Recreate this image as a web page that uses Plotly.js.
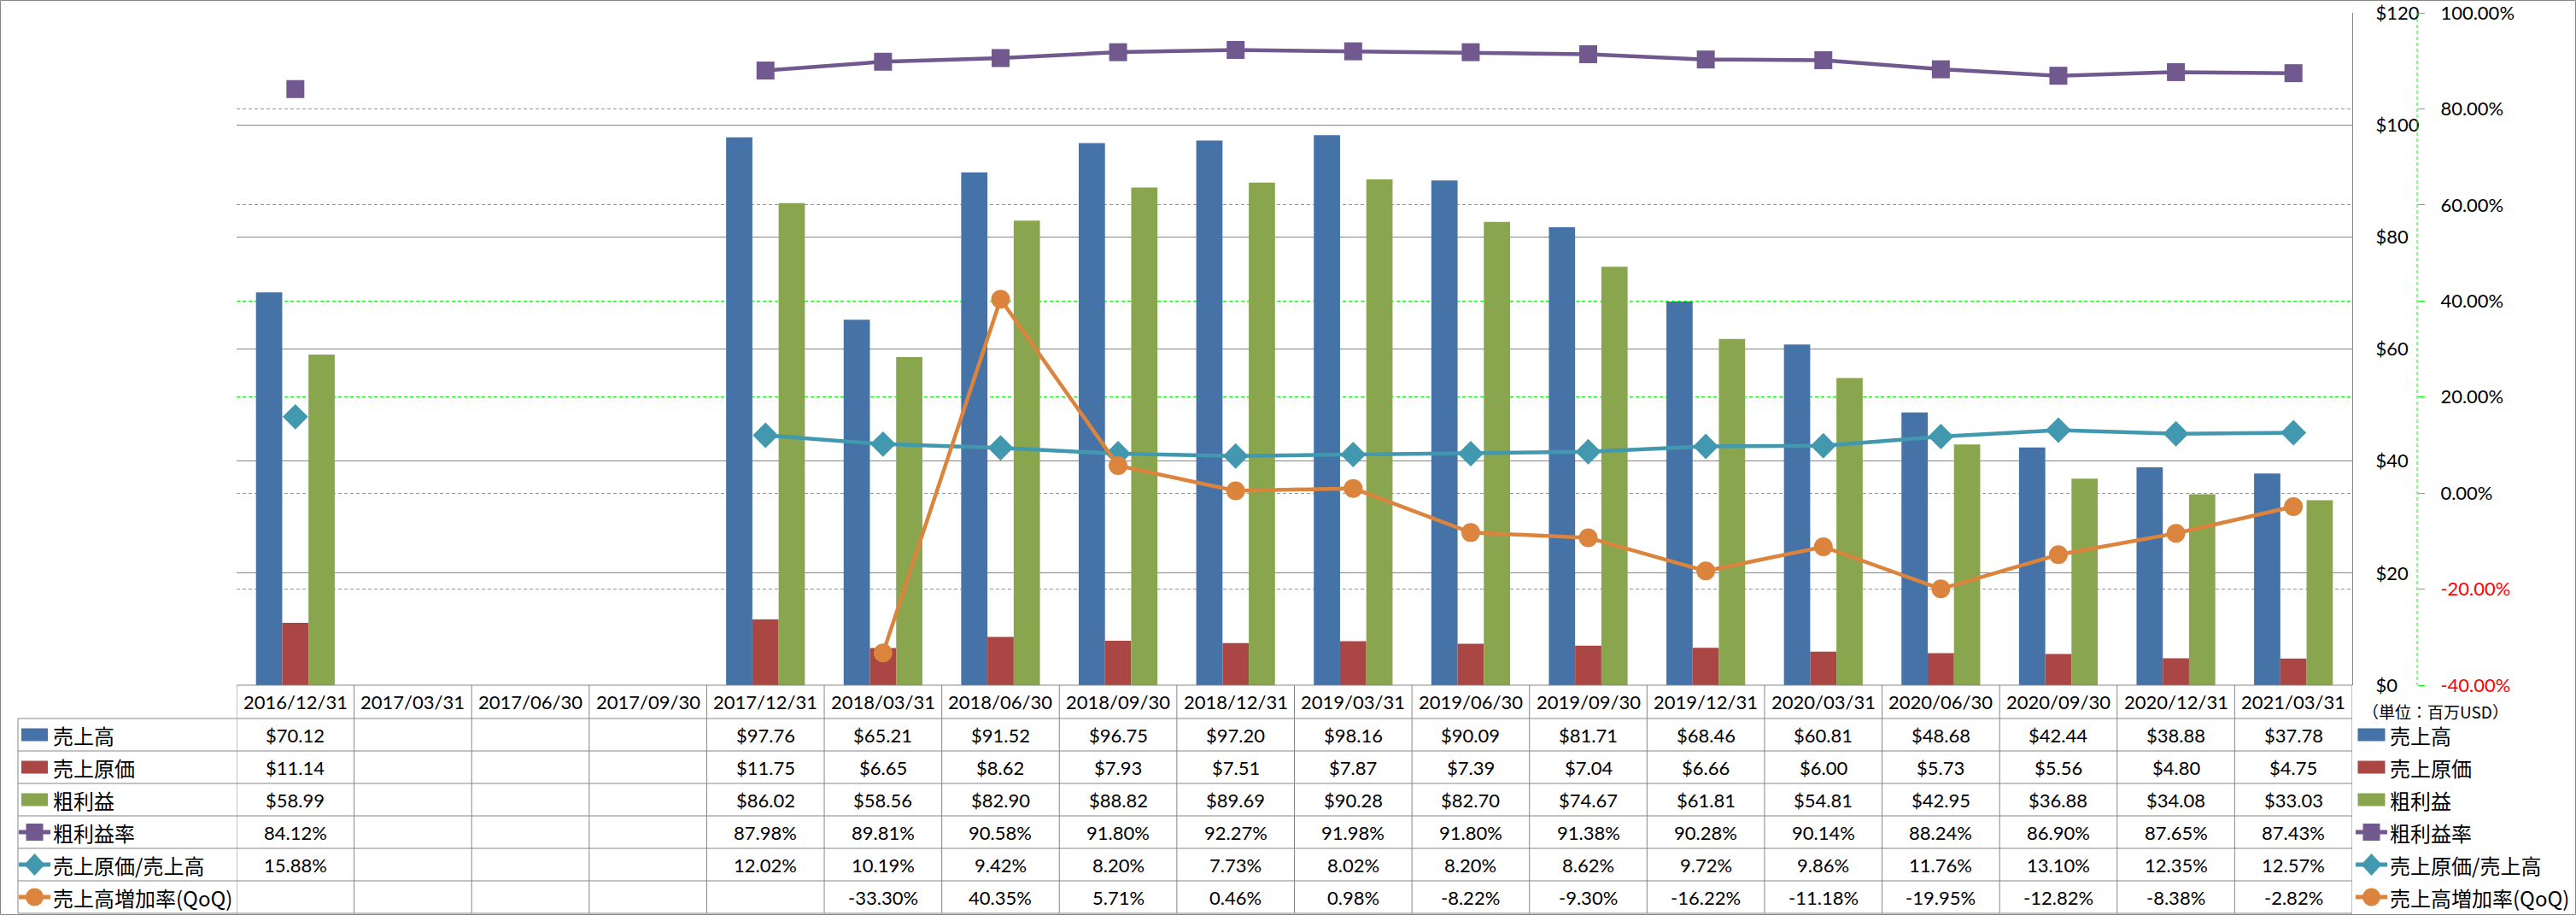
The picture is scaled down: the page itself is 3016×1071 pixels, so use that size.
<!DOCTYPE html>
<html>
<head>
<meta charset="utf-8">
<script src="https://cdn.plot.ly/plotly-3.0.1.min.js"></script>
<style>
  html, body { margin: 0; padding: 0; background: #fff; }
  #chart { width: 3016px; height: 1071px; }
</style>
</head>
<body>
<div id="chart"></div>
<script>
// ---------------- DATA ----------------
const dates = ['2016/12/31','2017/03/31','2017/06/30','2017/09/30','2017/12/31','2018/03/31','2018/06/30','2018/09/30','2018/12/31','2019/03/31','2019/06/30','2019/09/30','2019/12/31','2020/03/31','2020/06/30','2020/09/30','2020/12/31','2021/03/31'];
const sales = [70.12,null,null,null,97.76,65.21,91.52,96.75,97.20,98.16,90.09,81.71,68.46,60.81,48.68,42.44,38.88,37.78];
const costOfSales = [11.14,null,null,null,11.75,6.65,8.62,7.93,7.51,7.87,7.39,7.04,6.66,6.00,5.73,5.56,4.80,4.75];
const grossProfit = [58.99,null,null,null,86.02,58.56,82.90,88.82,89.69,90.28,82.70,74.67,61.81,54.81,42.95,36.88,34.08,33.03];
const grossMargin = [84.12,null,null,null,87.98,89.81,90.58,91.80,92.27,91.98,91.80,91.38,90.28,90.14,88.24,86.90,87.65,87.43];
const costRatio = [15.88,null,null,null,12.02,10.19,9.42,8.20,7.73,8.02,8.20,8.62,9.72,9.86,11.76,13.10,12.35,12.57];
const salesQoQ = [null,null,null,null,null,-33.30,40.35,5.71,0.46,0.98,-8.22,-9.30,-16.22,-11.18,-19.95,-12.82,-8.38,-2.82];
const seriesNames = ['売上高','売上原価','粗利益','粗利益率','売上原価/売上高','売上高増加率(QoQ)'];
const y1Ticks = [0,20,40,60,80,100,120];
const y2Ticks = [-40,-20,0,20,40,60,80,100];
const unitLabel = '（単位：百万USD）';

// ---------------- STYLE / GEOMETRY ----------------
const W = 3016, H = 1071;
const X = px => px / W;
const Y = py => 1 - py / H;
const colors = ['#4572A7','#AA4643','#89A54E','#71588F','#4198AF','#DB843D'];
const gridGray = '#878787';
const green = '#00FF00';
const latin = 'Lato, "Noto Sans CJK JP", sans-serif';
const cjk = '"Noto Sans CJK JP", Lato, sans-serif';

const plotL = 277, plotR = 2754, plotT = 15, plotB = 802;
const headerB = 841, rowH = 38, labelL = 21;
const rowCenters = [0,1,2,3,4,5].map(i => headerB + rowH * i + rowH / 2);

// ---------------- TRACES ----------------
const traces = [
  {type:'bar', name:seriesNames[0], x:dates, y:sales, marker:{color:colors[0]}},
  {type:'bar', name:seriesNames[1], x:dates, y:costOfSales, marker:{color:colors[1]}},
  {type:'bar', name:seriesNames[2], x:dates, y:grossProfit, marker:{color:colors[2]}},
  {type:'scatter', mode:'lines+markers', name:seriesNames[3], x:dates, y:grossMargin, yaxis:'y2',
   line:{color:colors[3], width:4.5}, marker:{symbol:'square', size:21, color:colors[3]}, connectgaps:false},
  {type:'scatter', mode:'lines+markers', name:seriesNames[4], x:dates, y:costRatio, yaxis:'y2',
   line:{color:colors[4], width:4.5}, marker:{symbol:'diamond', size:23, color:colors[4]}, connectgaps:false},
  {type:'scatter', mode:'lines+markers', name:seriesNames[5], x:dates, y:salesQoQ, yaxis:'y2',
   line:{color:colors[5], width:4.5}, marker:{symbol:'circle', size:22, color:colors[5]}, connectgaps:false}
];

// ---------------- TABLE (annotations + shapes) ----------------
const annotations = [];
const shapes = [];
const lineStyle = {color: gridGray, width: 1};

// header dates
dates.forEach(d => annotations.push({
  xref:'x', yref:'paper', x:d, y:Y((plotB + headerB) / 2), text:d, showarrow:false,
  xanchor:'center', yanchor:'middle', font:{family:latin, size:22, color:'#000'}
}));

const rowsData = [sales, costOfSales, grossProfit, grossMargin, costRatio, salesQoQ];
const fmt = [
  v => '$' + v.toFixed(2), v => '$' + v.toFixed(2), v => '$' + v.toFixed(2),
  v => v.toFixed(2) + '%', v => v.toFixed(2) + '%', v => v.toFixed(2) + '%'
];
rowsData.forEach((arr, r) => {
  arr.forEach((v, i) => {
    if (v === null) return;
    annotations.push({
      xref:'x', yref:'paper', x:dates[i], y:Y(rowCenters[r]), text:fmt[r](v), showarrow:false,
      xanchor:'center', yanchor:'middle', font:{family:latin, size:22, color:'#000'}
    });
  });
});

// row labels (left column) and right legend
seriesNames.forEach((n, r) => {
  annotations.push({xref:'paper', yref:'paper', x:X(60), y:Y(rowCenters[r]), text:n, showarrow:false,
    xanchor:'left', yanchor:'middle', font:{family:cjk, size:24, color:'#000'}});
  annotations.push({xref:'paper', yref:'paper', x:X(2796), y:Y(rowCenters[r]), text:n, showarrow:false,
    xanchor:'left', yanchor:'middle', font:{family:cjk, size:24, color:'#000'}});
});
annotations.push({xref:'paper', yref:'paper', x:X(2764), y:Y(832), text:unitLabel, showarrow:false,
  xanchor:'left', yanchor:'middle', font:{family:cjk, size:19, color:'#000'}});

// legend keys
function addKey(cx, cy, r, rectW) {
  const c = colors[r];
  if (r < 3) {
    shapes.push({type:'rect', xref:'paper', yref:'paper', x0:X(cx - rectW/2), x1:X(cx + rectW/2),
      y0:Y(cy + 7.5), y1:Y(cy - 7.5), fillcolor:c, line:{width:0}});
  } else {
    shapes.push({type:'line', xref:'paper', yref:'paper', x0:X(cx - 18.5), x1:X(cx + 18.5),
      y0:Y(cy), y1:Y(cy), line:{color:c, width:5}});
    if (r === 3) {
      shapes.push({type:'rect', xref:'paper', yref:'paper', x0:X(cx - 10), x1:X(cx + 10),
        y0:Y(cy + 10), y1:Y(cy - 10), fillcolor:c, line:{width:0}});
    } else if (r === 4) {
      const p = `M${X(cx-12)},${Y(cy)} L${X(cx)},${Y(cy-13)} L${X(cx+12)},${Y(cy)} L${X(cx)},${Y(cy+13)} Z`;
      shapes.push({type:'path', xref:'paper', yref:'paper', path:p, fillcolor:c, line:{width:0}});
    } else {
      shapes.push({type:'circle', xref:'paper', yref:'paper', x0:X(cx - 10.5), x1:X(cx + 10.5),
        y0:Y(cy + 10.5), y1:Y(cy - 10.5), fillcolor:c, line:{width:0}});
    }
  }
}
seriesNames.forEach((n, r) => {
  addKey(40.5, rowCenters[r], r, 31);
  addKey(2776.5, rowCenters[r], r, 32);
});

// table lines
shapes.push({type:'line', xref:'paper', yref:'paper', x0:X(plotL), x1:X(plotR), y0:Y(plotB), y1:Y(plotB), line:lineStyle});
for (let k = 0; k <= 6; k++) {
  const yy = headerB + rowH * k;
  shapes.push({type:'line', xref:'paper', yref:'paper', x0:X(labelL), x1:X(plotR), y0:Y(yy), y1:Y(yy), line:lineStyle});
}
shapes.push({type:'line', xref:'paper', yref:'paper', x0:X(labelL), x1:X(labelL), y0:Y(headerB), y1:Y(headerB + rowH*6), line:lineStyle});
for (let i = 0; i <= dates.length; i++) {
  shapes.push({type:'line', xref:'x', yref:'paper', x0:i - 0.5, x1:i - 0.5, y0:Y(plotB), y1:Y(headerB + rowH*6), line:lineStyle});
}
// secondary axis dashed line
shapes.push({type:'line', xref:'paper', yref:'paper', x0:X(2830), x1:X(2830), y0:Y(plotT), y1:Y(plotB),
  line:{color:green, width:1, dash:'4px,3px'}});
// chart border
shapes.push({type:'rect', xref:'paper', yref:'paper', x0:X(0.5), x1:X(W - 0.5), y0:Y(H - 0.5), y1:Y(0.5),
  line:{color:'#868686', width:1}, fillcolor:'rgba(0,0,0,0)'});

// ---------------- LAYOUT ----------------
const layout = {
  width: W, height: H,
  margin: {l:0, r:0, t:0, b:0, pad:0},
  paper_bgcolor: '#fff', plot_bgcolor: '#fff',
  showlegend: false,
  barmode: 'group', bargap: 0.33, bargroupgap: 0,
  font: {family: latin, size: 22, color: '#000'},
  xaxis: {
    type:'category', domain:[X(plotL), X(plotR)], range:[-0.5, dates.length - 0.5],
    showticklabels:false, showgrid:false, zeroline:false, showline:false, ticks:'', fixedrange:true
  },
  yaxis: {
    domain:[Y(plotB), Y(plotT)], range:[0, 120], side:'right',
    tickmode:'array', tickvals:y1Ticks, ticktext:y1Ticks.map(v => '$' + v),
    showgrid:true, gridcolor:gridGray, gridwidth:1, zeroline:false,
    showline:true, linecolor:gridGray, linewidth:1, ticks:'', ticklabelstandoff:22,
    tickfont:{family:latin, size:22, color:'#000'}, fixedrange:true
  },
  yaxis2: {
    overlaying:'y', side:'right', anchor:'free', position:X(2830), range:[-40, 100],
    tickmode:'array', tickvals:y2Ticks,
    ticktext:y2Ticks.map(v => v < 0 ? `<span style="color:#FF0000">${v.toFixed(2)}%</span>` : `${v.toFixed(2)}%`),
    showgrid:true, gridcolor:green, gridwidth:1, griddash:'4px,3px', zeroline:false, showline:false,
    ticks:'outside', ticklen:8, tickcolor:green, tickwidth:1, ticklabelstandoff:14,
    tickfont:{family:latin, size:22, color:'#000'}, fixedrange:true
  },
  annotations: annotations,
  shapes: shapes
};

Plotly.newPlot('chart', traces, layout, {displayModeBar:false, staticPlot:true});
</script>
</body>
</html>
